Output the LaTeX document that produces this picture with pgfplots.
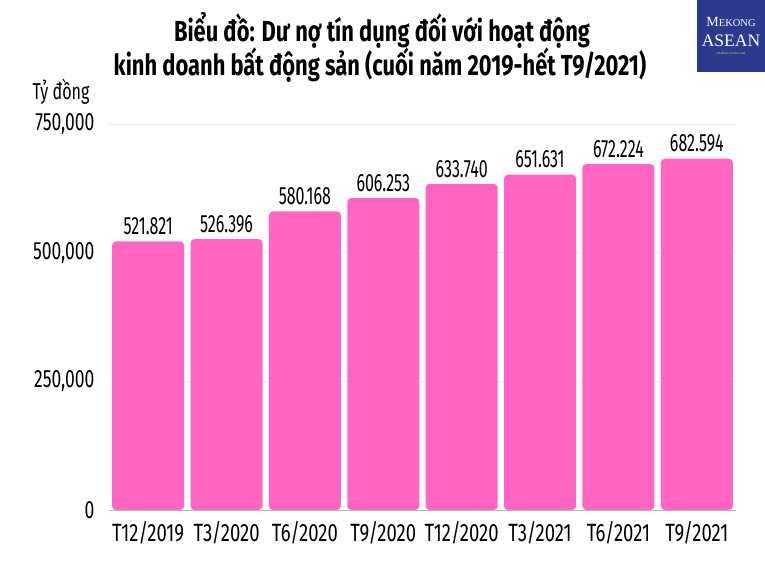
\documentclass[border=0pt]{standalone}
\usepackage{fontspec}
\setmainfont{Fira Sans}[FakeStretch=0.70]
\newfontfamily\valfont{Fira Sans}[FakeStretch=0.64]
\newfontfamily\xfont{Fira Sans}[FakeStretch=0.74]
\newfontfamily\titlefont{Fira Sans}[FakeStretch=0.755]
\newfontfamily\logofont{Liberation Serif}
\usepackage{pgfplots}
\usepackage{pgfplotstable}
\pgfplotsset{compat=1.18}
\definecolor{barpink}{HTML}{FF66C4}
\definecolor{logoblue}{HTML}{2B3A8F}
\definecolor{logoyellow}{HTML}{F2D33A}
\pgfplotstableread{
x y label
0 521821 521.821
1 526396 526.396
2 580168 580.168
3 606253 606.253
4 633740 633.740
5 651631 651.631
6 672224 672.224
7 682594 682.594
}\datatable
\begin{document}
\begin{tikzpicture}[x=1pt,y=1pt]
\useasboundingbox (0,0) rectangle (765,574);
\fill[white] (0,0) rectangle (765,574);
% logo
\fill[logoblue] (697,502) rectangle (765,574);
\node[text=white,font=\logofont\fontsize{14}{14}\selectfont] at (731,552) {M\fontsize{10.5}{10.5}\selectfont EKONG};
\node[text=white,font=\logofont\fontsize{17.5}{17.5}\selectfont] at (731,533) {ASEAN};
\node[text=logoyellow,font=\fontsize{2.5}{3}\selectfont] at (731,521) {DIỄN ĐÀN KINH TẾ VIỆT NAM - ASEAN};
% title
\node[font=\titlefont\bfseries\fontsize{29}{34}\selectfont,anchor=base] at (382,532) {Biểu đồ: Dư nợ tín dụng đối với hoạt động};
\node[font=\titlefont\bfseries\fontsize{29}{34}\selectfont,anchor=base] at (380,498) {kinh doanh bất động sản (cuối năm 2019-hết T9/2021)};
\node[font=\fontsize{23}{23}\selectfont,anchor=base east] at (93,474) {Tỷ đồng};
\begin{axis}[
  at={(109pt,64pt)}, anchor=south west,
  width=627pt, height=386pt, scale only axis,
  xmin=-0.5, xmax=7.5, ymin=0, ymax=750000,
  axis line style={draw=none},
  major tick length=0pt,
  xtick=data,
  xticklabels={T12/2019,T3/2020,T6/2020,T9/2020,T12/2020,T3/2021,T6/2021,T9/2021},
  ytick={0,250000,500000,750000},
  scaled y ticks=false,
  /pgf/number format/fixed,
  /pgf/number format/1000 sep={,},
  /pgf/number format/assume math mode=true,
  yticklabel style={font=\fontsize{25}{25}\selectfont, xshift=-11pt},
  xticklabel style={font=\xfont\fontsize{25}{25}\selectfont, yshift=-8pt},
  ymajorgrids, grid style={draw=black!8, line width=1pt},
  clip=false,
]
\addplot[ybar, bar width=72pt, fill=barpink, draw=none, rounded corners=4pt,
  nodes near coords, point meta=explicit symbolic,
  every node near coord/.append style={font=\valfont\fontsize{25}{25}\selectfont, anchor=south, yshift=3pt}]
  table[x=x,y=y,meta=label]{\datatable};
\draw[black!28, line width=1pt] (axis cs:-0.5,0) -- (axis cs:7.5,0);
\end{axis}
\end{tikzpicture}
\end{document}
